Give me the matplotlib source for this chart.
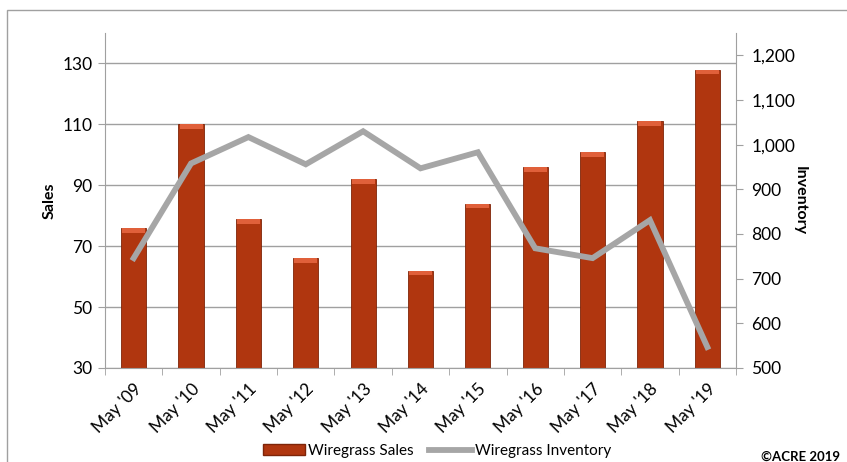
import matplotlib
matplotlib.use("Agg")
import matplotlib.pyplot as plt
from matplotlib.patches import Rectangle
from matplotlib.lines import Line2D
import numpy as np

plt.rcParams['font.family'] = ['Lato', 'DejaVu Sans']

categories = ["May '09", "May '10", "May '11", "May '12", "May '13", "May '14",
              "May '15", "May '16", "May '17", "May '18", "May '19"]
sales = [76, 110, 79, 66, 92, 62, 84, 96, 101, 111, 128]
inventory = [746, 958, 1017, 956, 1030, 947, 983, 768, 746, 831, 547]
sales_ticks = [30, 50, 70, 90, 110, 130]
inv_ticks = [500, 600, 700, 800, 900, 1000, 1100, 1200]

fig = plt.figure(figsize=(8.47, 4.62), dpi=100)
fig.patches.append(Rectangle((7/847, -0.05), 1.0, 1 - 10/462 + 0.05, transform=fig.transFigure,
                             fill=False, edgecolor='#A0A0A0', linewidth=1.0))
ax = fig.add_axes([105/847, 1-368/462, 631/847, 335/462])
ax2 = ax.twinx()

x = np.arange(len(categories))
bar_color = '#B0360F'
ax.bar(x, [s - 30 for s in sales], bottom=30, width=0.44, color=bar_color,
       edgecolor='#7E2408', linewidth=0.6, zorder=2)
# bevel highlight on top of each bar
ax.bar(x, [1.6] * len(x), bottom=[s - 1.6 for s in sales], width=0.40, color='#E0603A',
       linewidth=0, zorder=3)

ax.set_ylim(30, 140)
ax.set_yticks(sales_ticks)
ax.set_xlim(-0.5, len(x) - 0.5)
ax.set_xticks(x)
ax.set_xticklabels(categories, rotation=45, ha='right', rotation_mode='anchor', fontsize=12.5)
ax.tick_params(axis='y', length=5, color='#A0A0A0', labelsize=12.5, pad=4)
ax.set_xticks(np.arange(len(x) + 1) - 0.5, minor=True)
ax.tick_params(axis='x', which='major', length=0, pad=9)
ax.tick_params(axis='x', which='minor', length=5, color='#A0A0A0')
ax.grid(axis='y', color='#A0A0A0', linewidth=1.0, zorder=0)
ax.set_axisbelow(True)
for s in ['top', 'right']:
    ax.spines[s].set_visible(False)
for s in ['left', 'bottom']:
    ax.spines[s].set_color('#A0A0A0')
ax.set_ylabel('Sales', fontsize=11.5, fontweight='bold', labelpad=4)

ax2.plot(x, inventory, color='#A6A6A6', linewidth=4.2, solid_joinstyle='miter', zorder=4)
ax2.set_ylim(500, 1250)
ax2.set_yticks(inv_ticks)
ax2.set_yticklabels([f"{v:,}" for v in inv_ticks])
ax2.tick_params(axis='y', length=5, color='#A0A0A0', labelsize=12.5, pad=6)
for s in ['top', 'left', 'bottom']:
    ax2.spines[s].set_visible(False)
ax2.spines['right'].set_color('#A0A0A0')
ax2.set_ylabel('Inventory', fontsize=11.5, fontweight='bold', rotation=-90, labelpad=8)

handles = [Rectangle((0, 0), 1, 1, facecolor=bar_color, edgecolor='#7E2408'),
           Line2D([0], [0], color='#A6A6A6', linewidth=4.2)]
fig.legend(handles, ['Wiregrass Sales', 'Wiregrass Inventory'], loc='center',
           bbox_to_anchor=(437/847, 1-451/462), ncol=2, frameon=False, fontsize=11,
           handlelength=2.8, handletextpad=0.2, columnspacing=1.0)
fig.text(800/847, 1-457/462, '©ACRE 2019', ha='center', va='center', fontsize=9.5, fontweight='bold')

fig.savefig('out.png', dpi=100)
